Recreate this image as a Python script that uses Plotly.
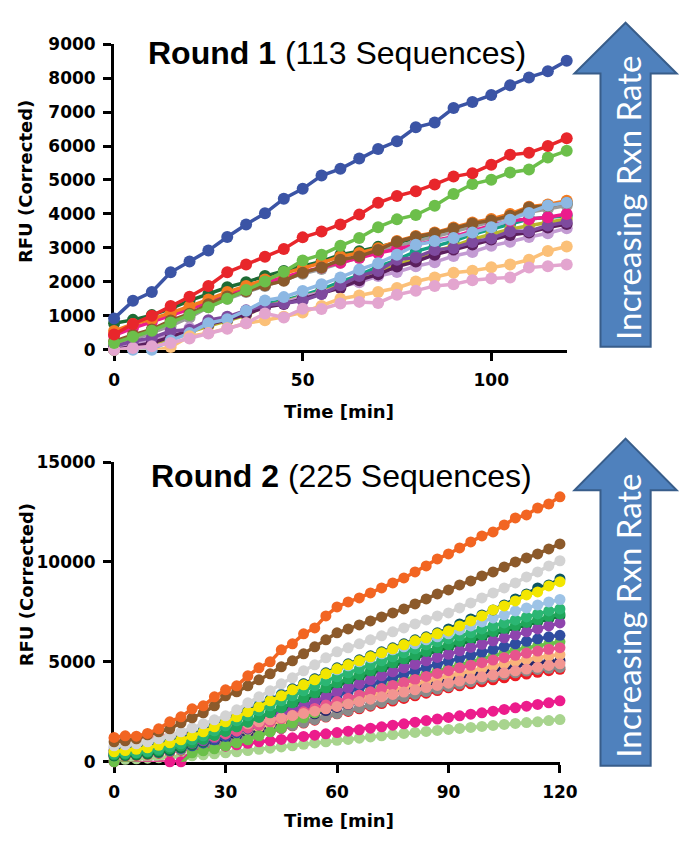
import plotly.graph_objects as go

W, H = 687, 844

# ---------------- DATA ----------------
time_r1 = list(range(0, 121, 5))
time_r2 = list(range(0, 121, 3))

r1_series = {
    "dark green": ("#1e6b34", [780, 880, 1020, 1210, 1450, 1640, 1840, 1990, 2170, 2320, 2460, 2600, 2800, 2900, 3030, 3150, 3270, 3400, 3520, 3650, 3800, 3950, 4080, 4200, 4300]),
    "grey": ("#9b9b9b", [100, 300, 480, 700, 950, 1250, 1500, 1700, 1880, 2050, 2240, 2380, 2560, 2720, 2880, 3050, 3200, 3330, 3480, 3620, 3760, 3920, 4050, 4150, 4250]),
    "teal": ("#16a085", [0, 50, 180, 350, 560, 780, 900, 1050, 1350, 1450, 1600, 1780, 2000, 2200, 2450, 2650, 2900, 3050, 3200, 3400, 3560, 3700, 3850, 3900, 3950]),
    "olive": ("#b8b52c", [0, 40, 150, 330, 520, 700, 850, 1020, 1280, 1420, 1560, 1700, 1900, 2080, 2300, 2500, 2700, 2900, 3050, 3250, 3400, 3550, 3650, 3750, 3850]),
    "light purple": ("#c39bd3", [0, 160, 290, 470, 640, 790, 960, 1080, 1270, 1390, 1560, 1690, 1860, 1990, 2170, 2290, 2460, 2580, 2760, 2880, 3060, 3180, 3320, 3430, 3580]),
    "dark purple": ("#5b1f5e", [0, 100, 200, 380, 560, 750, 880, 1050, 1250, 1350, 1500, 1650, 1820, 2050, 2220, 2450, 2600, 2800, 2950, 3100, 3250, 3380, 3450, 3600, 3700]),
    "purple": ("#7e4a9e", [100, 250, 350, 550, 590, 870, 970, 1160, 1310, 1360, 1450, 1640, 1900, 2170, 2320, 2650, 2720, 2940, 3000, 3170, 3280, 3490, 3490, 3660, 3760]),
    "magenta": ("#ec1c8c", [420, 640, 820, 1000, 1200, 1400, 1620, 1800, 1980, 2130, 2300, 2420, 2560, 2700, 2850, 2960, 3100, 3220, 3330, 3500, 3660, 3800, 3840, 3900, 4000]),
    "orange": ("#f47b20", [550, 760, 900, 1080, 1280, 1480, 1700, 1880, 2070, 2250, 2400, 2560, 2750, 2850, 2990, 3200, 3350, 3450, 3600, 3750, 3850, 4000, 4210, 4280, 4390]),
    "brown": ("#8b5a2b", [250, 440, 600, 860, 1060, 1340, 1570, 1720, 1900, 2030, 2270, 2420, 2650, 2750, 2940, 3180, 3330, 3430, 3570, 3720, 3810, 3950, 4190, 4240, 4330]),
    "light blue": ("#8db8e3", [0, 0, 0, 270, 490, 780, 900, 1150, 1450, 1550, 1730, 1930, 2130, 2360, 2550, 2800, 3090, 3200, 3290, 3450, 3610, 3830, 4030, 4250, 4330]),
    "light orange": ("#fbc078", [0, -50, -40, 80, 400, 490, 630, 780, 870, 970, 1100, 1290, 1500, 1600, 1700, 1820, 2010, 2130, 2270, 2330, 2430, 2510, 2650, 2910, 3040]),
    "light pink": ("#e3a5cf", [0, 50, 100, 200, 330, 480, 620, 780, 1070, 950, 1210, 1200, 1360, 1410, 1380, 1620, 1740, 1880, 1930, 2050, 2100, 2130, 2420, 2460, 2510]),
    "green": ("#6cbf4a", [200, 380, 560, 800, 1020, 1250, 1500, 1760, 2010, 2300, 2630, 2800, 3060, 3290, 3610, 3840, 3970, 4240, 4590, 4880, 5010, 5220, 5310, 5660, 5860]),
    "red": ("#e8262b", [450, 760, 1000, 1290, 1560, 1880, 2280, 2510, 2740, 2970, 3310, 3480, 3690, 3980, 4330, 4530, 4670, 4870, 5100, 5200, 5450, 5740, 5800, 6000, 6230]),
    "blue": ("#3b54a5", [923, 1440, 1700, 2280, 2600, 2920, 3320, 3690, 4020, 4450, 4740, 5130, 5330, 5630, 5910, 6140, 6550, 6690, 7120, 7300, 7500, 7790, 8020, 8200, 8510]),
}

r2_series = {
    "light green": ("#a8d48e", [100, 120, 150, 180, 200, 230, 260, 300, 350, 400, 450, 500, 560, 620, 680, 740, 800, 870, 940, 1000, 1070, 1120, 1180, 1240, 1300, 1360, 1420, 1470, 1520, 1570, 1620, 1670, 1720, 1770, 1820, 1870, 1920, 1960, 2000, 2060, 2110]),
    "magenta": ("#ec1c8c", [0, -50, -50, -50, -30, 0, 0, 550, 600, 700, 780, 850, 920, 1000, 1050, 1120, 1200, 1270, 1330, 1400, 1460, 1530, 1600, 1680, 1750, 1830, 1900, 1980, 2060, 2140, 2220, 2300, 2380, 2450, 2530, 2620, 2700, 2780, 2870, 2950, 3050]),
    "red": ("#ed1c24", [250, 280, 320, 370, 430, 500, 580, 670, 770, 880, 1000, 1130, 1260, 1390, 1530, 1660, 1800, 1940, 2080, 2240, 2400, 2520, 2650, 2780, 2910, 3040, 3170, 3300, 3430, 3560, 3700, 3800, 3900, 4000, 4100, 4200, 4300, 4390, 4480, 4560, 4630]),
    "grey": ("#8a8a8a", [300, 320, 350, 390, 450, 520, 600, 690, 790, 900, 1010, 1130, 1260, 1390, 1530, 1670, 1810, 1960, 2110, 2260, 2410, 2560, 2700, 2840, 2980, 3120, 3250, 3380, 3510, 3640, 3770, 3890, 4010, 4130, 4240, 4350, 4450, 4540, 4620, 4680, 4720]),
    "navy": ("#27276b", [400, 420, 450, 500, 560, 640, 730, 830, 940, 1060, 1190, 1330, 1470, 1620, 1770, 1920, 2080, 2240, 2400, 2560, 2720, 2870, 3020, 3170, 3310, 3450, 3590, 3720, 3850, 3980, 4110, 4230, 4350, 4470, 4580, 4690, 4790, 4880, 4960, 5020, 5060]),
    "light orange": ("#f9b27a", [500, 520, 550, 600, 660, 740, 830, 930, 1040, 1160, 1290, 1430, 1580, 1730, 1880, 2040, 2200, 2360, 2520, 2680, 2850, 3000, 3150, 3300, 3450, 3600, 3740, 3880, 4020, 4160, 4290, 4420, 4550, 4670, 4790, 4910, 5020, 5120, 5210, 5290, 5360]),
    "lime": ("#6cc04a", [0, -50, -80, -100, -100, -120, -100, 450, 550, 650, 800, 950, 1100, 1300, 1500, 1700, 1950, 2200, 2450, 2700, 2950, 3150, 3350, 3550, 3750, 3950, 4100, 4250, 4400, 4550, 4700, 4850, 5000, 5150, 5300, 5450, 5600, 5700, 5800, 5900, 6000]),
    "blue": ("#2f4da0", [300, 320, 350, 400, 470, 560, 670, 800, 940, 1100, 1270, 1450, 1640, 1840, 2040, 2240, 2450, 2660, 2880, 3100, 3320, 3500, 3680, 3860, 4040, 4220, 4400, 4560, 4720, 4880, 5030, 5180, 5330, 5480, 5620, 5760, 5900, 6030, 6150, 6250, 6330]),
    "dark green": ("#0e7c3a", [300, 320, 350, 400, 480, 580, 700, 850, 1000, 1200, 1400, 1620, 1850, 2080, 2300, 2550, 2800, 3050, 3300, 3550, 3800, 4000, 4200, 4400, 4600, 4800, 5000, 5200, 5380, 5550, 5700, 5880, 6050, 6200, 6380, 6550, 6700, 6850, 7000, 7150, 7300]),
    "purple": ("#8e44ad", [400, 430, 470, 520, 600, 700, 800, 920, 1050, 1200, 1380, 1560, 1750, 1950, 2150, 2350, 2550, 2780, 3000, 3250, 3500, 3700, 3900, 4100, 4300, 4500, 4700, 4880, 5050, 5220, 5380, 5550, 5720, 5880, 6050, 6200, 6350, 6500, 6650, 6800, 6950]),
    "hot pink": ("#e7548d", [600, 620, 650, 700, 760, 840, 930, 1030, 1140, 1260, 1390, 1530, 1680, 1840, 2000, 2160, 2330, 2500, 2670, 2840, 3020, 3180, 3340, 3500, 3660, 3820, 3970, 4120, 4270, 4420, 4560, 4700, 4830, 4960, 5090, 5210, 5330, 5440, 5540, 5630, 5710]),
    "salmon": ("#f29591", [1170, 1180, 1200, 1230, 1270, 1320, 1380, 1450, 1530, 1620, 1710, 1800, 1900, 2000, 2100, 2200, 2310, 2420, 2530, 2650, 2770, 2890, 3010, 3130, 3250, 3370, 3490, 3600, 3710, 3820, 3930, 4040, 4150, 4250, 4350, 4450, 4550, 4640, 4730, 4820, 4900]),
    "green": ("#1fa65a", [350, 380, 420, 480, 560, 660, 790, 950, 1120, 1320, 1520, 1750, 1980, 2220, 2450, 2700, 2950, 3200, 3450, 3700, 3950, 4150, 4350, 4550, 4750, 4950, 5150, 5350, 5520, 5700, 5850, 6020, 6200, 6350, 6520, 6680, 6820, 6970, 7120, 7280, 7400]),
    "sea green": ("#2bb673", [400, 420, 450, 520, 620, 750, 900, 1100, 1300, 1550, 1800, 2050, 2300, 2550, 2800, 3050, 3300, 3550, 3800, 4050, 4250, 4450, 4650, 4850, 5050, 5250, 5450, 5650, 5850, 6000, 6150, 6300, 6450, 6650, 6800, 6950, 7100, 7250, 7400, 7550, 7650]),
    "light blue": ("#9dc3e6", [730, 750, 780, 850, 950, 1050, 1200, 1400, 1650, 1900, 2150, 2400, 2650, 2900, 3150, 3400, 3650, 3900, 4150, 4400, 4600, 4800, 5000, 5200, 5400, 5600, 5750, 5900, 6100, 6250, 6400, 6600, 6800, 7000, 7200, 7350, 7550, 7700, 7850, 8000, 8120]),
    "dark teal": ("#0b5563", [550, 600, 650, 750, 850, 1000, 1150, 1350, 1550, 1800, 2050, 2300, 2550, 2800, 3100, 3350, 3650, 3900, 4150, 4450, 4700, 4900, 5100, 5300, 5500, 5700, 5900, 6100, 6250, 6450, 6650, 6900, 7150, 7350, 7600, 7850, 8150, 8400, 8700, 8850, 9150]),
    "yellow": ("#f2e600", [500, 560, 620, 700, 820, 950, 1100, 1300, 1500, 1750, 2000, 2250, 2500, 2750, 3050, 3300, 3600, 3850, 4100, 4400, 4650, 4850, 5050, 5250, 5450, 5650, 5850, 6050, 6200, 6400, 6550, 6800, 7050, 7300, 7600, 7800, 8050, 8350, 8500, 8800, 9010]),
    "light grey": ("#d3d3d3", [800, 850, 900, 1000, 1150, 1300, 1500, 1700, 1900, 2100, 2300, 2600, 2950, 3250, 3550, 3900, 4200, 4550, 4850, 5200, 5500, 5700, 5900, 6100, 6300, 6500, 6700, 6900, 7100, 7300, 7450, 7700, 7950, 8200, 8450, 8700, 8950, 9250, 9500, 9800, 10060]),
    "brown": ("#8c5a2b", [1000, 1050, 1150, 1350, 1500, 1650, 1950, 2200, 2450, 2800, 3300, 3500, 3800, 4100, 4400, 4750, 5050, 5400, 5750, 6100, 6450, 6650, 6850, 7050, 7250, 7450, 7650, 7900, 8150, 8400, 8600, 8850, 9050, 9300, 9500, 9750, 10000, 10200, 10400, 10650, 10900]),
    "orange": ("#f26522", [1220, 1300, 1280, 1420, 1650, 2000, 2250, 2650, 2800, 3250, 3600, 3800, 4300, 4700, 5000, 5600, 5900, 6400, 6700, 7300, 7750, 8000, 8200, 8450, 8700, 8950, 9200, 9500, 9800, 10150, 10400, 10700, 11000, 11300, 11500, 11850, 12200, 12350, 12700, 12900, 13260]),
}

r1_yticks = [0, 1000, 2000, 3000, 4000, 5000, 6000, 7000, 8000, 9000]
r1_xticks = [0, 50, 100]
r2_yticks = [0, 5000, 10000, 15000]
r2_xticks = [0, 30, 60, 90, 120]

# ---------------- LAYOUT HELPERS ----------------
def fx(px):
    return px / W

def fy(py):
    return 1 - py / H

fig = go.Figure()

for name, (color, vals) in r1_series.items():
    fig.add_trace(go.Scatter(
        x=time_r1, y=vals, mode="lines+markers", name=name,
        line=dict(color=color, width=3.5), marker=dict(color=color, size=12),
        cliponaxis=False, xaxis="x", yaxis="y", showlegend=False))

for name, (color, vals) in r2_series.items():
    fig.add_trace(go.Scatter(
        x=time_r2, y=vals, mode="lines+markers", name=name,
        line=dict(color=color, width=3.5), marker=dict(color=color, size=11),
        cliponaxis=False, xaxis="x2", yaxis="y2", showlegend=False))

tickfont = dict(family="DejaVu Sans", size=17, color="black", weight="bold")
axis_common = dict(showgrid=False, zeroline=False, showline=True, linecolor="black",
                   linewidth=3, ticks="outside", ticklen=8, tickwidth=3, tickcolor="black",
                   tickfont=tickfont, layer="below traces", fixedrange=True)

fig.update_layout(
    width=W, height=H, margin=dict(l=0, r=0, t=0, b=0),
    paper_bgcolor="white", plot_bgcolor="white",
    xaxis=dict(domain=[fx(112), fx(581)], range=[0, 120], tickvals=r1_xticks,
               ticktext=[str(v) for v in r1_xticks],
               anchor="y", ticklabelstandoff=5, **axis_common),
    yaxis=dict(domain=[fy(348), fy(35)], range=[0, 9000], tickvals=r1_yticks,
               ticktext=[str(v) for v in r1_yticks],
               anchor="x", ticklabelstandoff=4, **axis_common),
    xaxis2=dict(domain=[fx(112), fx(574)], range=[0, 120], tickvals=r2_xticks,
                ticktext=[str(v) for v in r2_xticks],
                anchor="y2", ticklabelstandoff=5, **axis_common),
    yaxis2=dict(domain=[fy(770), fy(463)], range=[0, 15000], tickvals=r2_yticks,
                ticktext=[str(v) for v in r2_yticks],
                anchor="x2", ticklabelstandoff=4, **axis_common),
)

title_font = dict(family="Liberation Sans, Arial", size=32, color="black")
label_font = dict(family="DejaVu Sans", size=18, color="black", weight="bold")
arrow_font = dict(family="Lato", size=33, color="white")

annotations = [
    dict(text="<b>Round 1</b> (113 Sequences)", x=fx(145), y=fy(44), xanchor="left", yanchor="middle", font=title_font),
    dict(text="<b>Round 2</b> (225 Sequences)", x=fx(148), y=fy(477), xanchor="left", yanchor="middle", font=title_font),
    dict(text="RFU (Corrected)", x=fx(21), y=fy(176), textangle=-90, xanchor="center", yanchor="middle", font=label_font),
    dict(text="RFU (Corrected)", x=fx(21), y=fy(589), textangle=-90, xanchor="center", yanchor="middle", font=label_font),
    dict(text="Time [min]", x=fx(345), y=fy(411), xanchor="center", yanchor="middle", font=label_font),
    dict(text="Time [min]", x=fx(345), y=fy(830), xanchor="center", yanchor="middle", font=label_font),
    dict(text="Increasing Rxn Rate", x=fx(645), y=fy(192), textangle=-90, xanchor="center", yanchor="middle", font=arrow_font),
    dict(text="Increasing Rxn Rate", x=fx(645), y=fy(620), textangle=-90, xanchor="center", yanchor="middle", font=arrow_font),
]
for a in annotations:
    a.update(xref="paper", yref="paper", showarrow=False)
fig.update_layout(annotations=annotations)

def arrow_path(tip_y, head_y, bottom_y, cx=642, head_half=53, shaft_half=26):
    pts = [(cx, tip_y), (cx + head_half, head_y), (cx + shaft_half, head_y),
           (cx + shaft_half, bottom_y), (cx - shaft_half, bottom_y),
           (cx - shaft_half, head_y), (cx - head_half, head_y)]
    return "M " + " L ".join(f"{fx(x):.5f},{fy(y):.5f}" for x, y in pts) + " Z"

shapes = []
for tip, head, bot in [(13, 65, 345), (439, 492, 774)]:
    shapes.append(dict(type="path", path=arrow_path(tip, head, bot), xref="paper", yref="paper",
                       fillcolor="#4f81bd", line=dict(color="#385d8a", width=2), layer="below"))
fig.update_layout(shapes=shapes)

fig.write_html("out.html")
